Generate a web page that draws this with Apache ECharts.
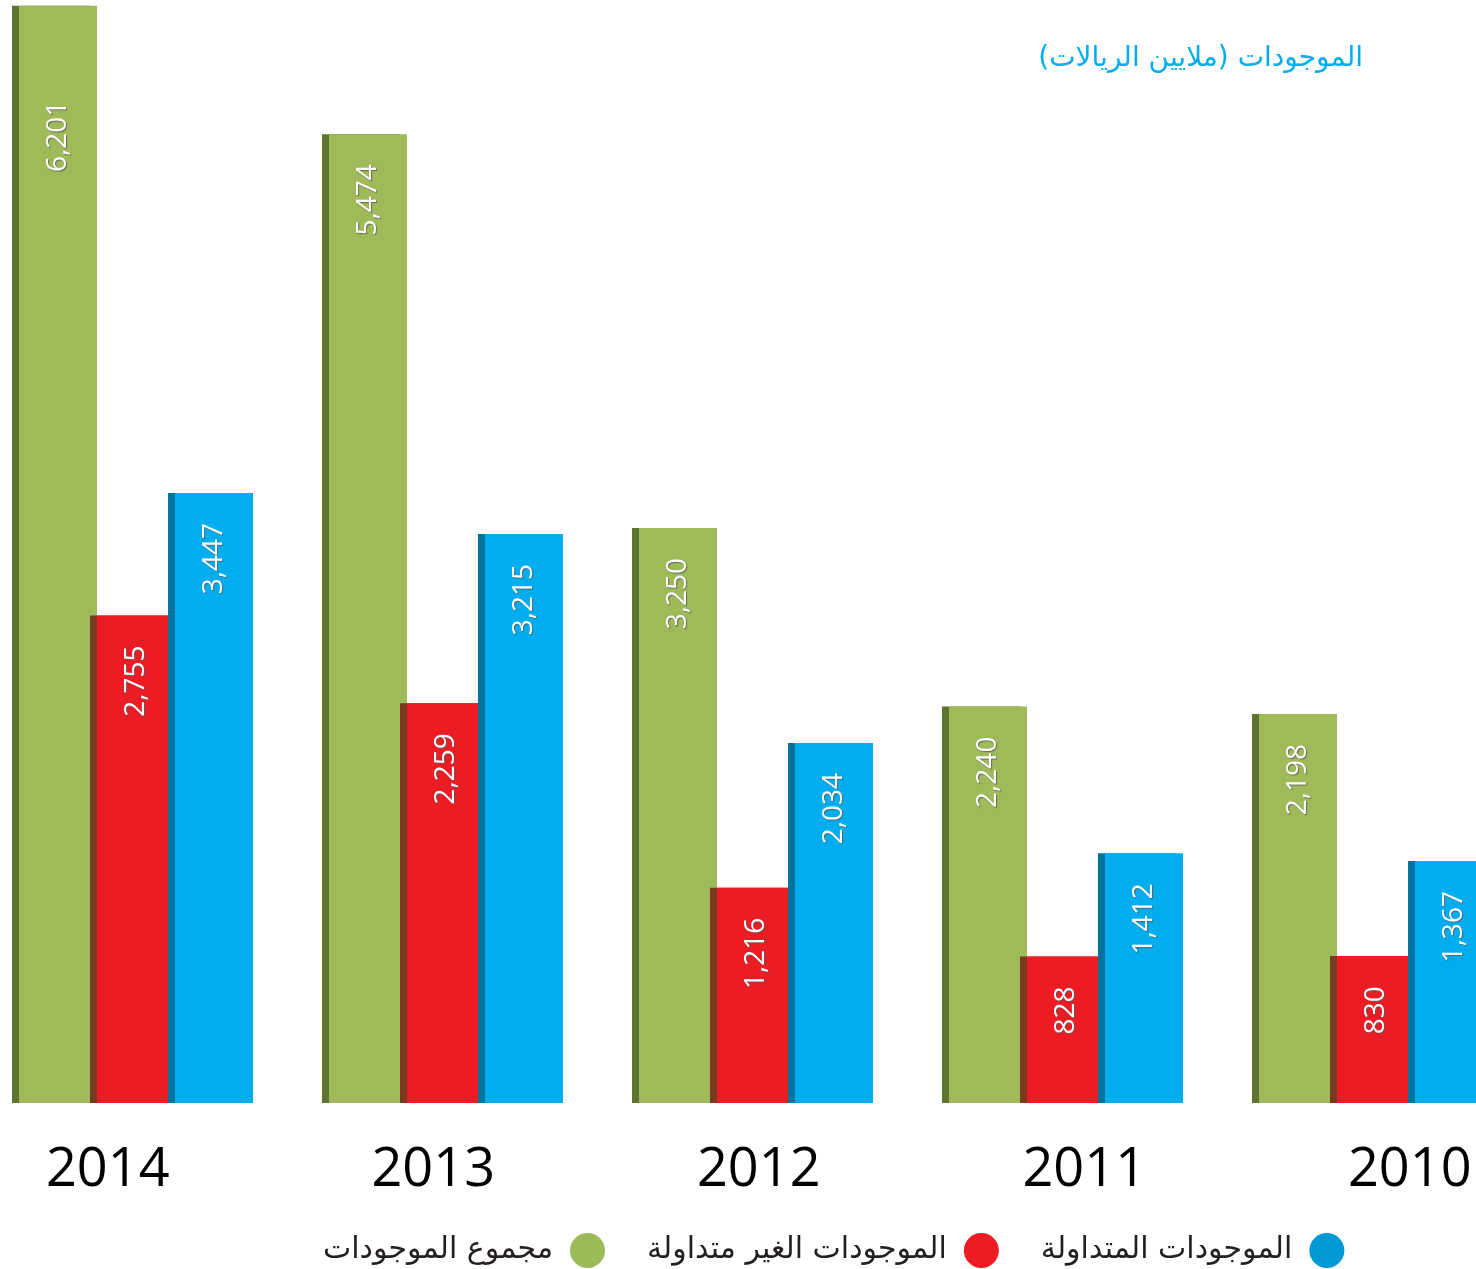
<!DOCTYPE html>
<html>
<head>
<meta charset="utf-8">
<script src="https://cdn.jsdelivr.net/npm/echarts@6/dist/echarts.min.js"></script>
<style>
  html, body { margin: 0; padding: 0; background: #fff; }
  #main { width: 1476px; height: 1269px; }
</style>
</head>
<body>
<div id="main"></div>
<script>
var years = ['2014', '2013', '2012', '2011', '2010'];
var totalAssets = [6201, 5474, 3250, 2240, 2198];
var nonCurrentAssets = [2755, 2259, 1216, 828, 830];
var currentAssets = [3447, 3215, 2034, 1412, 1367];

var seriesNames = ['مجموع الموجودات', 'الموجودات الغير متداولة', 'الموجودات المتداولة'];
var arabicFont = 'DejaVu Sans';

function barSeries(name, values, fill, edge) {
    return {
        name: name,
        type: 'bar',
        xAxisIndex: 0,
        yAxisIndex: 0,
        barWidth: 78,
        barGap: '0%',
        data: values.map(function (v) {
            // the tallest bar has its number sitting lower
            if (v === 6201) return { value: v, label: { distance: 95 } };
            return v;
        }),
        itemStyle: {
            color: fill,
            // dark strip on the left side of each bar
            shadowColor: edge,
            shadowOffsetX: -7,
            shadowBlur: 0
        },
        label: {
            show: true,
            position: 'insideTop',
            rotate: 90,
            align: 'right',
            verticalAlign: 'middle',
            distance: 30,
            color: '#fff',
            fontFamily: 'Open Sans',
            fontSize: 28,
            textShadowColor: 'rgba(90,90,90,0.8)',
            textShadowOffsetX: 1,
            textShadowOffsetY: 1,
            textShadowBlur: 1,
            formatter: function (p) { return p.value.toLocaleString('en-US'); }
        }
    };
}

var myChart = echarts.init(document.getElementById('main'));
var option = {
    animation: false,
    backgroundColor: '#fff',
    title: {
        text: 'الموجودات (ملايين الريالات)',
        right: 108,
        top: 40,
        textStyle: {
            color: '#00aeef',
            fontFamily: arabicFont,
            fontWeight: 'normal',
            fontSize: 28
        }
    },
    legend: {
        left: 318,
        top: 1228,
        icon: 'circle',
        align: 'right',
        itemWidth: 35,
        itemHeight: 35,
        itemGap: 42,
        itemStyle: { borderWidth: 0, shadowColor: 'transparent' },
        textStyle: {
            fontFamily: arabicFont,
            fontSize: 30,
            color: '#231f20',
            padding: [0, 12, 0, 0]
        },
        data: [
            { name: seriesNames[0], itemStyle: { color: '#9bbb59' } },
            { name: seriesNames[1], itemStyle: { color: '#ed1c24' } },
            { name: seriesNames[2], itemStyle: { color: '#0099d5' } }
        ]
    },
    grid: [
        { left: -19, right: -55, top: -3, bottom: 166, outerBoundsMode: 'none' },
        // separate grid only for the year labels, which are spaced wider than the bars
        { left: -55, right: -96.5, top: 1102, bottom: 166, outerBoundsMode: 'none' }
    ],
    xAxis: [{
        type: 'category',
        gridIndex: 0,
        data: years,
        axisLine: { show: false },
        axisTick: { show: false },
        axisLabel: { show: false }
    }, {
        type: 'category',
        gridIndex: 1,
        data: years,
        axisLine: { show: false },
        axisTick: { show: false },
        axisLabel: {
            margin: 41,
            fontFamily: 'Open Sans',
            fontSize: 54,
            color: '#000'
        }
    }],
    yAxis: [{
        type: 'value',
        gridIndex: 0,
        min: 0,
        max: 6250,
        show: false
    }, {
        type: 'value',
        gridIndex: 1,
        show: false
    }],
    series: [
        barSeries(seriesNames[0], totalAssets, '#9fba58', '#5e7532'),
        barSeries(seriesNames[1], nonCurrentAssets, '#ed1c24', '#7a3a22'),
        barSeries(seriesNames[2], currentAssets, '#00aeef', '#00739f')
    ]
};
myChart.setOption(option);
</script>
</body>
</html>
